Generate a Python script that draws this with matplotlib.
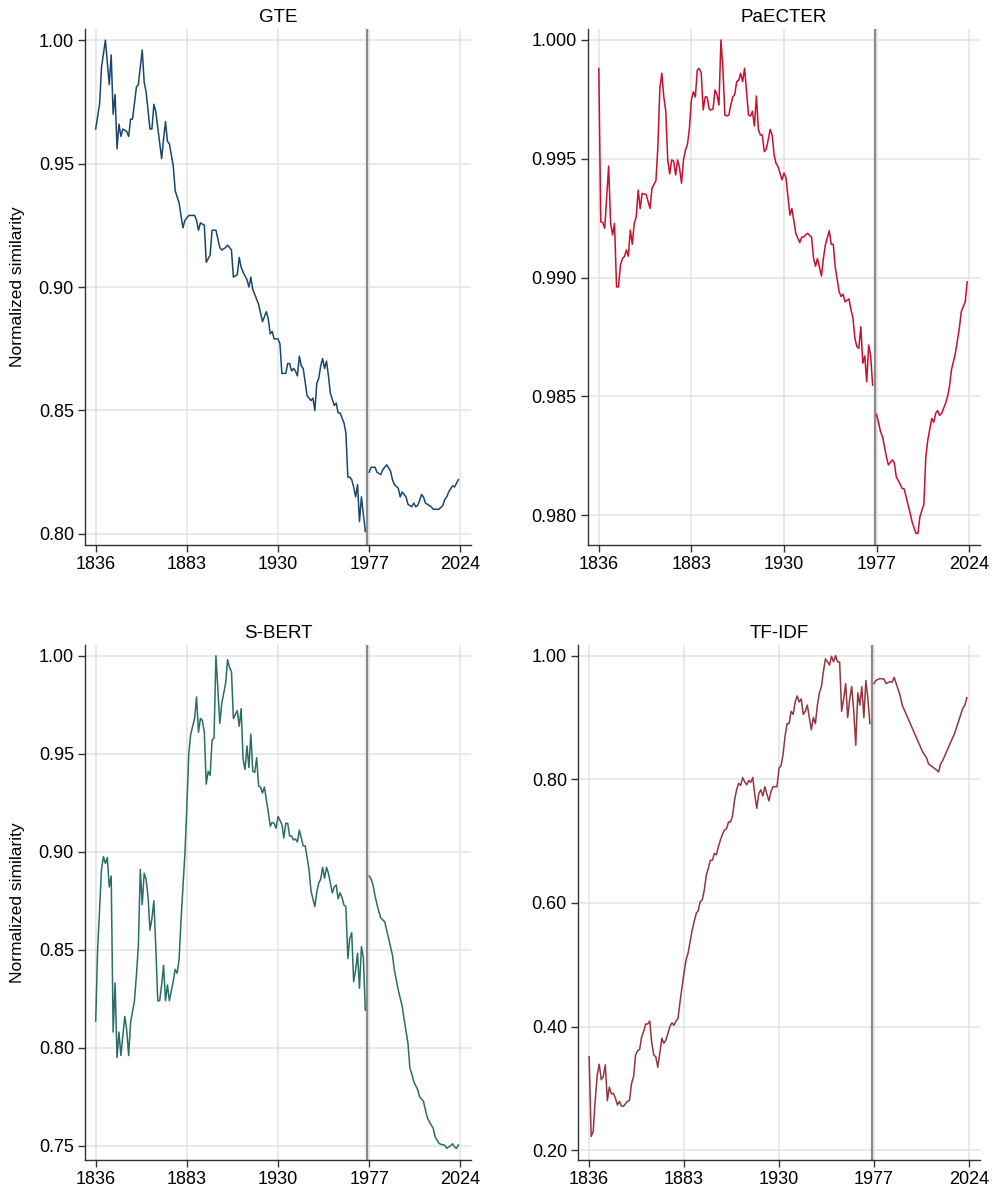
import matplotlib
matplotlib.use("Agg")
import matplotlib.pyplot as plt
from matplotlib.ticker import FormatStrFormatter

plt.rcParams['font.family'] = ['Liberation Sans', 'DejaVu Sans']

# break in the series (vertical marker)
break_year = 1976
x_ticks = [1836, 1883, 1930, 1977, 2024]

# GTE
gte_yr_a = [1836, 1838, 1839, 1841, 1843, 1844, 1845, 1846, 1847, 1848,
            1849, 1850, 1852, 1853, 1854, 1855, 1857, 1858, 1860, 1861,
            1862, 1864, 1865, 1866, 1867, 1870, 1871, 1872, 1873, 1874,
            1876, 1877, 1879, 1881, 1882, 1884, 1887, 1888, 1889, 1890,
            1892, 1893, 1895, 1896, 1897, 1898, 1900, 1901, 1903, 1904,
            1906, 1907, 1909, 1910, 1911, 1912, 1914, 1915, 1916, 1917,
            1920, 1922, 1924, 1925, 1926, 1927, 1928, 1930, 1931, 1932,
            1934, 1935, 1936, 1937, 1938, 1939, 1940, 1941, 1942, 1943,
            1945, 1946, 1947, 1948, 1949, 1950, 1951, 1952, 1953, 1954,
            1955, 1956, 1957, 1959, 1960, 1961, 1962, 1964, 1965, 1966,
            1967, 1968, 1969, 1970, 1971, 1972, 1973, 1974, 1975]
gte_val_a = [0.964, 0.974, 0.989, 1.000, 0.982, 0.994, 0.970, 0.978, 0.956, 0.966,
             0.961, 0.964, 0.963, 0.961, 0.968, 0.968, 0.981, 0.982, 0.996, 0.983,
             0.979, 0.964, 0.964, 0.974, 0.971, 0.952, 0.960, 0.967, 0.959, 0.958,
             0.949, 0.939, 0.934, 0.924, 0.927, 0.929, 0.929, 0.927, 0.923, 0.926,
             0.925, 0.910, 0.913, 0.923, 0.923, 0.923, 0.916, 0.915, 0.916, 0.917,
             0.915, 0.904, 0.905, 0.912, 0.908, 0.906, 0.903, 0.900, 0.904, 0.899,
             0.893, 0.886, 0.890, 0.887, 0.881, 0.882, 0.879, 0.879, 0.877, 0.865,
             0.865, 0.869, 0.869, 0.866, 0.867, 0.866, 0.864, 0.872, 0.868, 0.867,
             0.856, 0.855, 0.854, 0.855, 0.850, 0.861, 0.863, 0.868, 0.871, 0.867,
             0.870, 0.864, 0.857, 0.852, 0.853, 0.849, 0.849, 0.845, 0.841, 0.823,
             0.823, 0.822, 0.819, 0.815, 0.820, 0.805, 0.815, 0.808, 0.801]
gte_yr_b = [1977, 1978, 1980, 1981, 1983, 1984, 1986, 1988, 1989, 1990,
            1992, 1993, 1994, 1996, 1997, 1999, 2000, 2001, 2002, 2003,
            2004, 2005, 2006, 2008, 2009, 2010, 2012, 2013, 2015, 2016,
            2017, 2018, 2020, 2021, 2022, 2023]
gte_val_b = [0.825, 0.827, 0.827, 0.825, 0.824, 0.826, 0.828, 0.8255, 0.822, 0.820,
             0.8185, 0.815, 0.817, 0.815, 0.812, 0.811, 0.8125, 0.811, 0.8115, 0.8135,
             0.816, 0.815, 0.8125, 0.8115, 0.811, 0.810, 0.810, 0.810, 0.8115, 0.814,
             0.815, 0.817, 0.8195, 0.819, 0.8205, 0.822]

# PaECTER
pae_yr_a = [1836, 1837, 1838, 1839, 1841, 1842, 1843, 1844, 1845, 1846,
            1847, 1848, 1849, 1850, 1851, 1852, 1853, 1854, 1855, 1856,
            1857, 1858, 1860, 1861, 1862, 1863, 1865, 1866, 1867, 1868,
            1869, 1870, 1871, 1872, 1873, 1874, 1875, 1876, 1877, 1878,
            1879, 1880, 1881, 1882, 1883, 1884, 1885, 1886, 1887, 1888,
            1889, 1890, 1891, 1892, 1893, 1894, 1895, 1896, 1897, 1898,
            1899, 1900, 1901, 1902, 1903, 1904, 1905, 1906, 1907, 1908,
            1909, 1910, 1912, 1913, 1914, 1915, 1916, 1917, 1918, 1919,
            1920, 1921, 1922, 1923, 1924, 1925, 1926, 1927, 1929, 1930,
            1931, 1933, 1934, 1935, 1936, 1938, 1939, 1940, 1941, 1942,
            1944, 1945, 1946, 1947, 1949, 1950, 1951, 1953, 1954, 1955,
            1956, 1958, 1959, 1960, 1961, 1963, 1964, 1965, 1966, 1967,
            1968, 1969, 1970, 1971, 1972, 1973, 1974, 1975]
pae_val_a = [0.99880, 0.99235, 0.99232, 0.99207, 0.99469, 0.99228, 0.99179, 0.99228, 0.98961, 0.98960,
             0.99053, 0.99080, 0.99088, 0.99116, 0.99090, 0.99200, 0.99140, 0.99228, 0.99256, 0.99368,
             0.99290, 0.99354, 0.99350, 0.99320, 0.99291, 0.99376, 0.99408, 0.99551, 0.99797, 0.99860,
             0.99760, 0.99700, 0.99495, 0.99436, 0.99495, 0.99490, 0.99432, 0.99495, 0.99460, 0.99397,
             0.99495, 0.99537, 0.99560, 0.99628, 0.99747, 0.99782, 0.99760, 0.99874, 0.99880, 0.99860,
             0.99705, 0.99760, 0.99760, 0.99710, 0.99705, 0.99710, 0.99790, 0.99770, 0.99726, 1.00000,
             0.99880, 0.99684, 0.99680, 0.99684, 0.99726, 0.99760, 0.99770, 0.99825, 0.99830, 0.99860,
             0.99825, 0.99881, 0.99684, 0.99680, 0.99700, 0.99638, 0.99764, 0.99624, 0.99600, 0.99600,
             0.99530, 0.99540, 0.99580, 0.99624, 0.99600, 0.99516, 0.99480, 0.99467, 0.99411, 0.99440,
             0.99420, 0.99263, 0.99290, 0.99240, 0.99186, 0.99147, 0.99170, 0.99170, 0.99180, 0.99186,
             0.99170, 0.99081, 0.99048, 0.99080, 0.99006, 0.99080, 0.99137, 0.99197, 0.99140, 0.99140,
             0.99045, 0.98940, 0.98920, 0.98930, 0.98898, 0.98910, 0.98865, 0.98830, 0.98744, 0.98709,
             0.98702, 0.98793, 0.98639, 0.98670, 0.98561, 0.98716, 0.98670, 0.98547]
pae_yr_b = [1977, 1978, 1979, 1980, 1982, 1983, 1985, 1986, 1987, 1989,
            1990, 1991, 1993, 1994, 1995, 1997, 1998, 1999, 2001, 2002,
            2003, 2005, 2006, 2007, 2008, 2009, 2010, 2012, 2013, 2014,
            2015, 2017, 2019, 2020, 2022, 2023]
pae_val_b = [0.98424, 0.98390, 0.98351, 0.98330, 0.98246, 0.98211, 0.98232, 0.98220, 0.98161, 0.98130,
             0.98112, 0.98110, 0.98042, 0.98010, 0.97972, 0.97923, 0.97923, 0.97993, 0.98046, 0.98246,
             0.98316, 0.98407, 0.98390, 0.98428, 0.98440, 0.98420, 0.98428, 0.98470, 0.98498, 0.98540,
             0.98611, 0.98681, 0.98786, 0.98856, 0.98898, 0.98982]

# S-BERT
sb_yr_a = [1836, 1837, 1839, 1840, 1841, 1842, 1843, 1844, 1845, 1846,
           1847, 1848, 1849, 1851, 1852, 1853, 1854, 1856, 1857, 1858,
           1859, 1860, 1861, 1862, 1863, 1864, 1865, 1866, 1867, 1868,
           1869, 1870, 1871, 1872, 1873, 1874, 1876, 1877, 1878, 1879,
           1880, 1882, 1883, 1884, 1885, 1887, 1888, 1889, 1890, 1891,
           1892, 1893, 1894, 1895, 1896, 1897, 1898, 1899, 1900, 1901,
           1903, 1904, 1905, 1906, 1907, 1908, 1909, 1910, 1911, 1912,
           1913, 1914, 1915, 1916, 1917, 1918, 1919, 1920, 1921, 1922,
           1923, 1925, 1926, 1927, 1928, 1929, 1930, 1931, 1932, 1933,
           1934, 1935, 1936, 1937, 1938, 1939, 1940, 1941, 1942, 1943,
           1944, 1946, 1947, 1949, 1950, 1951, 1952, 1953, 1954, 1955,
           1956, 1957, 1958, 1959, 1960, 1961, 1962, 1963, 1964, 1965,
           1966, 1967, 1968, 1969, 1970, 1971, 1972, 1973, 1974, 1975]
sb_val_a = [0.8136, 0.850, 0.891, 0.8975, 0.894, 0.897, 0.882, 0.8876, 0.808, 0.833,
            0.795, 0.808, 0.796, 0.816, 0.809, 0.796, 0.813, 0.824, 0.837, 0.852,
            0.891, 0.873, 0.889, 0.886, 0.877, 0.860, 0.866, 0.875, 0.851, 0.824,
            0.824, 0.832, 0.842, 0.824, 0.832, 0.824, 0.834, 0.840, 0.838, 0.845,
            0.865, 0.899, 0.923, 0.950, 0.960, 0.968, 0.979, 0.961, 0.968, 0.967,
            0.961, 0.9345, 0.941, 0.939, 0.957, 0.958, 1.000, 0.9825, 0.9655, 0.9757,
            0.986, 0.998, 0.994, 0.992, 0.968, 0.970, 0.972, 0.964, 0.973, 0.947,
            0.942, 0.954, 0.943, 0.960, 0.941, 0.9405, 0.948, 0.9335, 0.933, 0.930,
            0.933, 0.920, 0.913, 0.915, 0.9145, 0.912, 0.918, 0.916, 0.914, 0.907,
            0.9145, 0.9145, 0.908, 0.908, 0.906, 0.9065, 0.905, 0.911, 0.907, 0.903,
            0.903, 0.891, 0.880, 0.872, 0.8795, 0.884, 0.886, 0.892, 0.8865, 0.892,
            0.889, 0.884, 0.879, 0.882, 0.883, 0.876, 0.879, 0.8766, 0.8728, 0.872,
            0.8456, 0.8558, 0.8587, 0.8337, 0.8395, 0.8482, 0.8303, 0.8515, 0.846, 0.8192]
sb_yr_b = [1977, 1978, 1979, 1980, 1981, 1982, 1983, 1985, 1987, 1989,
           1990, 1992, 1994, 1995, 1997, 1998, 1999, 2000, 2002, 2003,
           2005, 2006, 2007, 2008, 2010, 2011, 2013, 2014, 2016, 2017,
           2019, 2020, 2021, 2022, 2023]
sb_val_b = [0.8876, 0.8860, 0.8830, 0.8775, 0.8733, 0.8694, 0.8662, 0.8643, 0.8558, 0.8473,
            0.8396, 0.8294, 0.8213, 0.8146, 0.8023, 0.7895, 0.7865, 0.7827, 0.7786, 0.7750,
            0.7726, 0.7682, 0.7643, 0.7622, 0.7589, 0.7546, 0.7512, 0.7507, 0.7502, 0.7487,
            0.7500, 0.7510, 0.7495, 0.7486, 0.7504]

# TF-IDF
tf_yr_a = [1836, 1837, 1838, 1839, 1840, 1841, 1842, 1843, 1844, 1845,
           1846, 1847, 1848, 1849, 1850, 1851, 1852, 1853, 1855, 1856,
           1857, 1858, 1859, 1860, 1861, 1862, 1863, 1864, 1865, 1866,
           1867, 1868, 1869, 1870, 1871, 1872, 1873, 1874, 1875, 1876,
           1877, 1878, 1879, 1880, 1881, 1882, 1883, 1884, 1885, 1886,
           1887, 1888, 1889, 1890, 1891, 1892, 1893, 1894, 1895, 1896,
           1897, 1898, 1899, 1900, 1901, 1902, 1903, 1904, 1905, 1906,
           1907, 1908, 1909, 1910, 1911, 1912, 1913, 1914, 1915, 1916,
           1917, 1918, 1919, 1920, 1921, 1922, 1923, 1924, 1925, 1926,
           1927, 1929, 1930, 1931, 1932, 1933, 1934, 1935, 1936, 1937,
           1938, 1939, 1940, 1941, 1942, 1943, 1944, 1945, 1946, 1947,
           1948, 1949, 1950, 1951, 1952, 1953, 1954, 1955, 1956, 1957,
           1958, 1959, 1960, 1961, 1962, 1963, 1964, 1965, 1966, 1967,
           1968, 1969, 1970, 1971, 1972, 1973, 1974, 1975]
tf_val_a = [0.351, 0.222, 0.230, 0.281, 0.3215, 0.339, 0.314, 0.319, 0.338, 0.280,
            0.302, 0.291, 0.292, 0.284, 0.273, 0.279, 0.271, 0.271, 0.279, 0.281,
            0.308, 0.319, 0.354, 0.361, 0.363, 0.3835, 0.392, 0.404, 0.404, 0.409,
            0.373, 0.354, 0.351, 0.334, 0.357, 0.381, 0.373, 0.378, 0.389, 0.400,
            0.406, 0.402, 0.409, 0.413, 0.440, 0.464, 0.488, 0.508, 0.519, 0.537,
            0.556, 0.570, 0.583, 0.5875, 0.602, 0.6047, 0.621, 0.645, 0.656, 0.669,
            0.669, 0.680, 0.678, 0.691, 0.702, 0.711, 0.718, 0.720, 0.731, 0.731,
            0.741, 0.7665, 0.783, 0.7935, 0.790, 0.8026, 0.796, 0.791, 0.798, 0.795,
            0.803, 0.7746, 0.753, 0.777, 0.783, 0.773, 0.788, 0.776, 0.765, 0.780,
            0.788, 0.788, 0.818, 0.822, 0.840, 0.870, 0.890, 0.890, 0.910, 0.905,
            0.925, 0.935, 0.925, 0.930, 0.905, 0.910, 0.920, 0.900, 0.880, 0.900,
            0.890, 0.920, 0.940, 0.950, 0.975, 0.995, 0.990, 0.985, 0.999, 0.990,
            1.000, 0.990, 0.990, 0.910, 0.930, 0.955, 0.900, 0.930, 0.950, 0.910,
            0.855, 0.940, 0.920, 0.950, 0.900, 0.960, 0.930, 0.890]
tf_yr_b = [1977, 1978, 1980, 1982, 1983, 1985, 1986, 1987, 1988, 1990,
           1991, 1993, 1995, 1997, 1999, 2001, 2003, 2004, 2006, 2008,
           2009, 2010, 2011, 2013, 2015, 2017, 2019, 2020, 2021, 2022,
           2023]
tf_val_b = [0.955, 0.960, 0.963, 0.962, 0.955, 0.958, 0.957, 0.965, 0.955, 0.935,
            0.920, 0.905, 0.890, 0.875, 0.860, 0.845, 0.835, 0.825, 0.820, 0.815,
            0.812, 0.825, 0.830, 0.845, 0.860, 0.875, 0.895, 0.905, 0.915, 0.920,
            0.932]

panels = [
    ("GTE", gte_yr_a, gte_val_a, gte_yr_b, gte_val_b, "#1a476f",
     [0.80, 0.85, 0.90, 0.95, 1.00], (0.7955, 1.0045), "%.2f",
     [0.0857, 0.5420, 0.3891, 0.4336]),
    ("PaECTER", pae_yr_a, pae_val_a, pae_yr_b, pae_val_b, "#c8102e",
     [0.980, 0.985, 0.990, 0.995, 1.000], (0.97874, 1.00046), "%.3f",
     [0.5927, 0.5420, 0.3952, 0.4336]),
    ("S-BERT", sb_yr_a, sb_val_a, sb_yr_b, sb_val_b, "#2a6e67",
     [0.75, 0.80, 0.85, 0.90, 0.95, 1.00], (0.7427, 1.0055), "%.2f",
     [0.0857, 0.0252, 0.3891, 0.4328]),
    ("TF-IDF", tf_yr_a, tf_val_a, tf_yr_b, tf_val_b, "#93363f",
     [0.20, 0.40, 0.60, 0.80, 1.00], (0.184, 1.0173), "%.2f",
     [0.5827, 0.0252, 0.4052, 0.4328]),
]

fig = plt.figure(figsize=(9.92, 11.9), dpi=100)

for i, (name, xa, ya, xb, yb, col, yt, ylim, fmt, pos) in enumerate(panels):
    ax = fig.add_axes(pos)
    ax.grid(True, color="#e3e3e3", linewidth=1.1)
    ax.set_axisbelow(True)
    ax.axvline(break_year, color="#8a8a8a", linewidth=1.6, zorder=2)
    ax.plot(xa, ya, color=col, linewidth=1.1, zorder=3)
    ax.plot(xb, yb, color=col, linewidth=1.1, zorder=3)
    ax.set_xlim(1830.5, 2029.5)
    ax.set_ylim(*ylim)
    ax.set_xticks(x_ticks)
    ax.set_yticks(yt)
    ax.yaxis.set_major_formatter(FormatStrFormatter(fmt))
    ax.tick_params(labelsize=13, length=5, width=1, color="#333333", pad=3)
    for s in ("top", "right"):
        ax.spines[s].set_visible(False)
    for s in ("left", "bottom"):
        ax.spines[s].set_color("#333333")
        ax.spines[s].set_linewidth(1.0)
    ax.set_title(name, fontsize=13.5, pad=5)
    if i % 2 == 0:
        ax.set_ylabel("Normalized similarity", fontsize=12.5)
        ax.yaxis.set_label_coords(-0.155, 0.5)

fig.savefig("out.png", dpi=100)
